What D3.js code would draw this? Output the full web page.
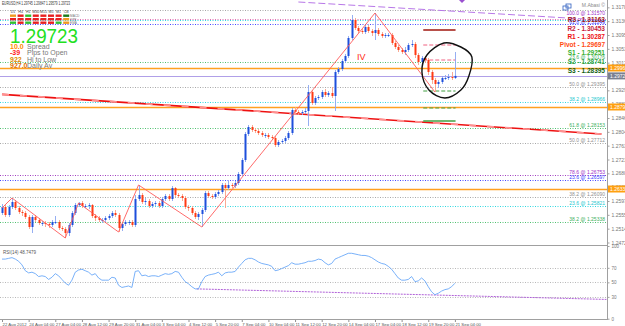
<!DOCTYPE html>
<html>
<head>
<meta charset="utf-8">
<script src="https://d3js.org/d3.v7.min.js"></script>
<style>
body { margin: 0; background: #fff; }
svg { display: block; font-family: "Liberation Sans", Arial, sans-serif; }
</style>
</head>
<body>
<script>
// ---- data (EURUSD H4, 22 Aug - 21 Sep 2012) ----
var firstOpen = 1.2561;
var closes = [1.2579,1.2555,1.2579,1.2594,1.2576,1.2564,1.2561,1.2549,1.2519,1.2549,
1.2540,1.2531,1.2531,1.2528,1.2525,1.2534,1.2534,1.2516,1.2513,1.2501,
1.2525,1.2561,1.2585,1.2591,1.2582,1.2582,1.2585,1.2552,1.2546,1.2540,
1.2540,1.2546,1.2552,1.2561,1.2555,1.2516,1.2528,1.2534,1.2534,1.2525,
1.2603,1.2615,1.2594,1.2597,1.2582,1.2588,1.2591,1.2582,1.2603,1.2612,
1.2603,1.2636,1.2615,1.2612,1.2606,1.2579,1.2576,1.2561,1.2549,1.2558,
1.2570,1.2621,1.2612,1.2609,1.2618,1.2624,1.2645,1.2636,1.2645,1.2642,
1.2651,1.2678,1.2720,1.2798,1.2819,1.2810,1.2807,1.2801,1.2795,1.2795,
1.2789,1.2786,1.2765,1.2774,1.2777,1.2786,1.2801,1.2870,1.2864,1.2861,
1.2864,1.2867,1.2924,1.2891,1.2906,1.2909,1.2924,1.2915,1.2921,1.2912,
1.2984,1.2993,1.3017,1.3032,1.3086,1.3140,1.3116,1.3107,1.3104,1.3119,
1.3107,1.3101,1.3110,1.3098,1.3092,1.3095,1.3095,1.3071,1.3059,1.3050,
1.3044,1.3050,1.3065,1.3068,1.3035,1.3014,1.3026,1.3020,1.2984,1.2960,
1.2948,1.2954,1.2966,1.2966,1.2969,1.2966,1.29723];
var highs = [1.2588,1.2585,1.2585,1.2606,1.2600,1.2582,1.2570,1.2567,1.2555,1.2555,
1.2555,1.2546,1.2537,1.2537,1.2534,1.2540,1.2552,1.2540,1.2522,1.2519,
1.2531,1.2567,1.2591,1.2594,1.2597,1.2588,1.2591,1.2588,1.2558,1.2552,
1.2546,1.2552,1.2558,1.2567,1.2570,1.2561,1.2534,1.2540,1.2540,1.2540,
1.2615,1.2645,1.2621,1.2606,1.2603,1.2594,1.2597,1.2597,1.2609,1.2618,
1.2618,1.2642,1.2639,1.2621,1.2618,1.2612,1.2585,1.2582,1.2567,1.2564,
1.2576,1.2627,1.2627,1.2618,1.2624,1.2630,1.2651,1.2651,1.2657,1.2651,
1.2657,1.2684,1.2726,1.2804,1.2825,1.2825,1.2816,1.2813,1.2807,1.2801,
1.2801,1.2795,1.2792,1.2780,1.2783,1.2792,1.2807,1.2876,1.2879,1.2870,
1.2870,1.2876,1.2945,1.2930,1.2912,1.2915,1.2930,1.2933,1.2927,1.2939,
1.2990,1.2999,1.3023,1.3038,1.3092,1.3155,1.3146,1.3122,1.3113,1.3125,
1.3125,1.3113,1.3161,1.3116,1.3104,1.3101,1.3101,1.3101,1.3077,1.3065,
1.3056,1.3059,1.3071,1.3080,1.3074,1.3041,1.3032,1.3032,1.3026,1.2990,
1.2966,1.2960,1.2972,1.2975,1.2978,1.2984,1.3044];
var lows = [1.2555,1.2549,1.2549,1.2573,1.2570,1.2558,1.2552,1.2543,1.2513,1.2501,
1.2534,1.2525,1.2522,1.2519,1.2516,1.2519,1.2528,1.2510,1.2507,1.2486,
1.2492,1.2519,1.2555,1.2579,1.2576,1.2576,1.2573,1.2546,1.2537,1.2534,
1.2531,1.2534,1.2540,1.2546,1.2549,1.2504,1.2507,1.2522,1.2525,1.2519,
1.2519,1.2597,1.2588,1.2585,1.2576,1.2576,1.2582,1.2576,1.2576,1.2597,
1.2597,1.2597,1.2609,1.2606,1.2597,1.2573,1.2567,1.2555,1.2543,1.2540,
1.2519,1.2564,1.2606,1.2603,1.2603,1.2612,1.2618,1.2576,1.2630,1.2636,
1.2636,1.2645,1.2672,1.2714,1.2792,1.2804,1.2801,1.2795,1.2789,1.2786,
1.2783,1.2780,1.2759,1.2759,1.2768,1.2771,1.2780,1.2795,1.2858,1.2855,
1.2855,1.2858,1.2822,1.2885,1.2885,1.2900,1.2903,1.2909,1.2909,1.2906,
1.2867,1.2978,1.2987,1.3011,1.3026,1.3080,1.3110,1.3101,1.3098,1.3098,
1.3101,1.3092,1.3080,1.3092,1.3086,1.3086,1.3089,1.3065,1.3053,1.3044,
1.3038,1.3035,1.3044,1.3059,1.3026,1.3005,1.3002,1.3011,1.2975,1.2948,
1.2924,1.2936,1.2948,1.2960,1.2960,1.2960,1.2963];
var rsi = [82,82,83,84,82,79,74,66,63,64,
62,58,59,58,54,57,62,59,54,49,
46,53,64,67,68,66,64,60,62,56,
53,53,53,57,56,46,43,44,45,43,
65,66,59,60,58,59,59,58,60,62,
61,62,65,64,57,51,48,44,41,41,
51,58,60,61,62,64,59,63,64,64,
65,71,76,81,83,83,81,78,76,75,
74,72,66,67,69,71,73,77,75,75,
76,77,79,79,80,82,81,77,74,76,
82,84,86,88,90,90,89,88,87,87,
86,84,81,78,76,75,72,68,62,56,
53,53,54,58,51,52,56,52,44,37,
33,35,38,40,41,44,48.75];

var dateLabels = ["22 Aug 2012","24 Aug 04:00","27 Aug 04:00","28 Aug 12:00","29 Aug 20:00","31 Aug 04:00",
  "3 Sep 04:00","4 Sep 12:00","5 Sep 20:00","7 Sep 04:00","10 Sep 04:00","11 Sep 12:00",
  "12 Sep 20:00","14 Sep 04:00","17 Sep 04:00","18 Sep 12:00","19 Sep 20:00","21 Sep 04:00"];
var dateBars = [0,8,16,24,32,40,48,56,64,72,80,88,96,104,112,120,128,136];
var priceTicks = [1.3178,1.31365,1.3095,1.30535,1.3012,1.29705,1.2929,1.28875,1.2846,
  1.28045,1.2763,1.27215,1.268,1.26385,1.2597,1.25555,1.2514,1.24725];
var rsiTicks = [100,70,50,30,0];
var rsiLevels = [70,50,30];

// horizontal levels (fibo / pivots)
var dotPrices = [1.3170,1.3143,1.3140,1.3128,1.3014,1.2939,1.2894,1.2816,1.2771,1.2675,1.2660,1.2609,1.2582,1.2534];
var dotKinds  = ["gray","pink","cyan","blue","green","gray","cyan","green","gray","purple","blue","gray","cyan","green"];
var orangePrices = [1.2996,1.2879,1.2633];
var bid = 1.29723;

var fiboPrices = [1.3152,1.3126,1.3020,1.2939,1.2894,1.2816,1.2771,1.2675,1.2660,1.2609,1.2582,1.2534];
var fiboTexts = ["100.0 @ 1.31570","61.8 @ 1.31249","23.6 @ 1.30176","50.0 @ 1.29395","38.2 @ 1.28966",
  "61.8 @ 1.28153","50.0 @ 1.27712","78.6 @ 1.26753","23.6 @ 1.26597","38.2 @ 1.26090","23.6 @ 1.25821","38.2 @ 1.25338"];
var fiboKinds = ["purple","blue","green","gray","cyan","green","gray","purple","blue","gray","cyan","green"];

var pivotNames = ["R3","R2","R1","Pivot","S1","S2","S3"];
var pivotValues = ["1.31163","1.30453","1.30287","1.29697","1.29251","1.28741","1.28395"];

var zigBars = [0,3,19,23,35,41,60,112,130];
var zigPrices = [1.2576,1.2606,1.2486,1.2591,1.2504,1.2645,1.2519,1.3161,1.2924];
var trendBars = [0,180], trendPrices = [1.2917,1.2798];
var topLineBars = [89,180], topLinePrices = [1.3194,1.3140];
var rsiTrendBars = [58.5,181.5], rsiTrendValues = [41,26.5];

var segBars = [126.5,136.2];
var segPrices = [1.3110,1.3065,1.3020,1.2927,1.2876,1.2837];
var segKinds = ["maroon","pinkdash","pinkdash","greendash","greendash","green"];

var circleBars = [132.7,137.8,141.1,140.2,137.8,133,128.2,126.1,127.6];
var circlePrices = [1.3071,1.3059,1.3029,1.2972,1.2930,1.2906,1.2930,1.2984,1.3035];

var tfNames = ["D1","H4","H1","M30","M15","M5","M1","CB"];
var rowNames = ["MACD","STR","EMA"];
var cellStates = [
  ["mid","dn","up","dn","dn","dn","dn","upd"],
  ["dn","dn","dn","dn","dn","dn","dn","mid"],
  ["up","dn","up","dn","dn","dn","up","mid"]
];

// ---- drawing ----
var w = 625, h = 326, plotR = 607, mainB = 245;
var svg = d3.select("body").append("svg").attr("width", w).attr("height", h);
svg.append("rect").attr("width", w).attr("height", h).attr("fill", "#fff");

var x = d3.scaleLinear().domain([0, 136]).range([2, 454.9]);
var y = d3.scaleLinear().domain([1.2465, 1.3200]).range([mainB, 0]);
var yR = d3.scaleLinear().domain([0, 100]).range([318.7, 246]);

var colors = {gray:"#a8a8a8", pink:"#e070b0", cyan:"#30d8e0", blue:"#4848ff", green:"#50c070",
  purple:"#a040c0", orange:"#ffa010"};

svg.append("clipPath").attr("id","mc").append("rect").attr("width", plotR).attr("height", mainB);
var main = svg.append("g").attr("clip-path","url(#mc)");

// dotted levels
main.selectAll(".dot").data(dotPrices).enter().append("line")
  .attr("x1",0).attr("x2",plotR)
  .attr("y1",d=>Math.round(y(d))+0.5).attr("y2",d=>Math.round(y(d))+0.5)
  .attr("stroke",(d,i)=>colors[dotKinds[i]]).attr("stroke-dasharray","1,1.5");

// top purple trend line
main.append("line")
  .attr("x1",x(topLineBars[0])).attr("y1",y(topLinePrices[0]))
  .attr("x2",x(topLineBars[1])).attr("y2",y(topLinePrices[1]))
  .attr("stroke","#b878e8").attr("stroke-dasharray","7,3");

// orange and bid lines
main.selectAll(".orl").data(orangePrices).enter().append("line")
  .attr("x1",0).attr("x2",plotR)
  .attr("y1",d=>Math.round(y(d))+0.5).attr("y2",d=>Math.round(y(d))+0.5)
  .attr("stroke","#ffa020").attr("stroke-width",1.3);
main.append("line").attr("x1",0).attr("x2",plotR)
  .attr("y1",Math.round(y(bid))+0.5).attr("y2",Math.round(y(bid))+0.5)
  .attr("stroke","#b0a0e8").attr("stroke-width",1.2);

// red trend line (solid with pale dashes)
main.append("line")
  .attr("x1",x(trendBars[0])).attr("y1",y(trendPrices[0]))
  .attr("x2",x(trendBars[1])).attr("y2",y(trendPrices[1]))
  .attr("stroke","#ee1010").attr("stroke-width",1.6);
main.append("line")
  .attr("x1",x(trendBars[0])).attr("y1",y(trendPrices[0]))
  .attr("x2",x(trendBars[1])).attr("y2",y(trendPrices[1]))
  .attr("stroke","#ff9090").attr("stroke-width",1.7).attr("stroke-dasharray","7,11");

// short current-day segments
var segStyle = {
  maroon:{c:"#b8504a", w:2, d:null},
  pinkdash:{c:"#f06080", w:1, d:"4,2"},
  greendash:{c:"#40a040", w:1, d:"4,2"},
  green:{c:"#40a040", w:1.6, d:null}
};
main.selectAll(".seg").data(segPrices).enter().append("line")
  .attr("x1",x(segBars[0])).attr("x2",x(segBars[1]))
  .attr("y1",d=>y(d)).attr("y2",d=>y(d))
  .attr("stroke",(d,i)=>segStyle[segKinds[i]].c)
  .attr("stroke-width",(d,i)=>segStyle[segKinds[i]].w)
  .attr("stroke-dasharray",(d,i)=>segStyle[segKinds[i]].d);

// candles
var bars = closes.map(function(c,i){
  return {i:i, o: i==0 ? firstOpen : closes[i-1], c:c, hi:highs[i], lo:lows[i]};
});
var cg = main.append("g");
cg.selectAll("line").data(bars).enter().append("line")
  .attr("x1",d=>Math.round(x(d.i))+0.5).attr("x2",d=>Math.round(x(d.i))+0.5)
  .attr("y1",d=>y(d.hi)).attr("y2",d=>y(d.lo))
  .attr("stroke",d=>d.c>=d.o ? "#8aa6f0" : "#f8a088").attr("stroke-width",0.9);
cg.selectAll("rect").data(bars).enter().append("rect")
  .attr("x",d=>Math.round(x(d.i))-0.5).attr("width",2)
  .attr("y",d=>y(Math.max(d.o,d.c)))
  .attr("height",d=>Math.max(1, Math.abs(y(d.o)-y(d.c))))
  .attr("fill",d=>d.c>=d.o ? "#1d4fdc" : "#ff3a14");

// zigzag
main.append("path").datum(zigBars)
  .attr("d", d3.line().x(d=>x(d)).y((d,i)=>y(zigPrices[i])))
  .attr("fill","none").attr("stroke","#ff5a5a").attr("stroke-width",0.9);

// hand drawn circle
main.append("path").datum(circleBars)
  .attr("d", d3.line().x(d=>x(d)).y((d,i)=>y(circlePrices[i])).curve(d3.curveCardinalClosed))
  .attr("fill","none").attr("stroke","#111").attr("stroke-width",1.4);

// IV label
main.append("text").attr("x",x(106.6)).attr("y",y(1.3029)).attr("dy","0.35em")
  .attr("font-size",9).attr("fill","#ff2a10").text("IV");

// small marker at top
main.append("path").attr("d","M459,0 L465,0 L462,3 Z").attr("fill","#9a50d0");

// fibo labels
var fiboCol = {purple:"#a030c8", blue:"#4040ff", green:"#40b060", gray:"#909090", cyan:"#20c8d0"};
svg.selectAll(".fibo").data(fiboPrices).enter().append("text")
  .attr("x",605).attr("y",d=>y(d)-1).attr("text-anchor","end")
  .attr("font-size",5).attr("fill",(d,i)=>fiboCol[fiboKinds[i]])
  .text((d,i)=>fiboTexts[i]);

// pivot labels
var pivotCol = ["#a01818","#c8203c","#ee1010","#ff4a10","#38b030","#30a040","#106010"];
var pivotY = [20,29,37,45,53,62,71];
svg.selectAll(".piv").data(pivotNames).enter().append("text")
  .attr("x",605).attr("y",(d,i)=>pivotY[i]).attr("dy","0.35em").attr("text-anchor","end")
  .attr("font-size",6.5).attr("font-weight","bold").attr("fill",(d,i)=>pivotCol[i])
  .text((d,i)=>d + " - " + pivotValues[i]);

// top-right signature and icon
svg.append("rect").attr("x",563).attr("y",6).attr("width",5).attr("height",4).attr("fill","none").attr("stroke","#3060c0").attr("stroke-width",0.8);
svg.append("rect").attr("x",566).attr("y",4).attr("width",5).attr("height",4).attr("fill","none").attr("stroke","#3060c0").attr("stroke-width",0.8);
svg.append("text").attr("x",605).attr("y",7).attr("text-anchor","end").attr("font-size",5)
  .attr("fill","#888").text("M.Abasi ©");

// RSI subwindow
svg.selectAll(".rl").data(rsiLevels).enter().append("line")
  .attr("x1",0).attr("x2",plotR)
  .attr("y1",d=>Math.round(yR(d))+0.5).attr("y2",d=>Math.round(yR(d))+0.5)
  .attr("stroke","#b8b8b8").attr("stroke-dasharray","1,1.5");
svg.append("line")
  .attr("x1",x(rsiTrendBars[0])).attr("y1",yR(rsiTrendValues[0]))
  .attr("x2",Math.min(plotR, x(rsiTrendBars[1]))).attr("y2",yR(rsiTrendValues[1]))
  .attr("stroke","#b060d8").attr("stroke-dasharray","2,1");
svg.append("path").datum(rsi)
  .attr("d", d3.line().x((d,i)=>x(i)).y(d=>yR(d)))
  .attr("fill","none").attr("stroke","#6aa8f8").attr("stroke-width",0.9);
svg.append("text").attr("x",3).attr("y",254).attr("font-size",4.5).attr("fill","#555")
  .text("RSI(14) 48.7479");

// frames
svg.append("line").attr("x1",0).attr("x2",plotR).attr("y1",mainB+0.5).attr("y2",mainB+0.5).attr("stroke","#a0a0a0");
svg.append("line").attr("x1",0).attr("x2",plotR).attr("y1",319.5).attr("y2",319.5).attr("stroke","#a0a0a0");
svg.append("line").attr("x1",plotR+0.5).attr("x2",plotR+0.5).attr("y1",0).attr("y2",320).attr("stroke","#a0a0a0");

// price axis
var pa = svg.append("g").attr("transform","translate("+(plotR+0.5)+",0)")
  .call(d3.axisRight(y).tickValues(priceTicks).tickFormat(d3.format(".5f")).tickSize(2).tickPadding(2));
pa.select(".domain").remove();
pa.selectAll("line").attr("stroke","#a0a0a0");
pa.selectAll("text").attr("font-size",5).attr("fill","#777").attr("font-family","Liberation Sans, Arial");

// price boxes
var boxes = orangePrices.map(p=>({p:p, c:"#ffa010"})).concat([{p:bid, c:"#7a8090"}]);
var bx = svg.selectAll(".box").data(boxes).enter().append("g");
bx.append("rect").attr("x",plotR+1).attr("y",d=>y(d.p)-3.5).attr("width",w-plotR-1).attr("height",7).attr("fill",d=>d.c);
bx.append("text").attr("x",plotR+3).attr("y",d=>y(d.p)).attr("dy","0.35em").attr("font-size",5).attr("fill","#fff")
  .text(d=>d.p.toFixed(5));

// RSI axis
var ra = svg.append("g").attr("transform","translate("+(plotR+0.5)+",0)")
  .call(d3.axisRight(yR).tickValues(rsiTicks).tickSize(2).tickPadding(2));
ra.select(".domain").remove();
ra.selectAll("line").attr("stroke","#a0a0a0");
ra.selectAll("text").attr("font-size",4.5).attr("fill","#777").attr("font-family","Liberation Sans, Arial");

// date axis
var da = svg.append("g").attr("transform","translate(0,320)")
  .call(d3.axisBottom(x).tickValues(dateBars).tickFormat((d,i)=>dateLabels[i]).tickSize(2).tickPadding(1));
da.select(".domain").remove();
da.selectAll("line").attr("stroke","#909090");
da.selectAll("text").attr("font-size",4.3).attr("fill","#555").attr("text-anchor","start")
  .attr("dx",0).attr("font-family","Liberation Sans, Arial");

// top-left header
svg.append("text").attr("x",2).attr("y",5).attr("font-size",4.5).attr("fill","#333")
  .attr("textLength",68).attr("lengthAdjust","spacingAndGlyphs")
  .text("EURUSD,H4  1.29745 1.29847 1.29579 1.29723");

// timeframe dashboard
var stateCol = {up:"#30c030", dn:"#e82020", mid:"#f09a20", upd:"#1a7a1a"};
svg.selectAll(".tf").data(tfNames).enter().append("text")
  .attr("x",(d,i)=>13+i*7.6).attr("y",13).attr("text-anchor","middle")
  .attr("font-size",3.6).attr("fill","#444").text(d=>d);
cellStates.forEach(function(row,r){
  svg.selectAll(".c"+r).data(row).enter().append("rect")
    .attr("x",(d,i)=>10+i*7.6).attr("y",14.5+r*3.5).attr("width",6).attr("height",2.4)
    .attr("fill",d=>stateCol[d]);
});
svg.selectAll(".rn").data(rowNames).enter().append("text")
  .attr("x",70).attr("y",(d,i)=>17+i*3.5).attr("font-size",3.2).attr("fill","#777").text(d=>d);

// big bid and info lines
svg.append("text").attr("x",10).attr("y",43).attr("font-size",21).attr("fill","#22e022")
  .attr("textLength",68).attr("lengthAdjust","spacingAndGlyphs").text("1.29723");
var infoNums = ["10.0","-39","922","927.0"];
var infoText = ["Spread","Pips to Open","Hi to Low","Daily Av"];
var infoCol = ["#ff8c00","#ff2020","#e08a00","#e07000"];
svg.selectAll(".in").data(infoNums).enter().append("text")
  .attr("x",10).attr("y",(d,i)=>49+i*6.4).attr("font-size",7).attr("font-weight","bold")
  .attr("fill",(d,i)=>infoCol[i]).text(d=>d);
svg.selectAll(".it").data(infoText).enter().append("text")
  .attr("x",27).attr("y",(d,i)=>49+i*6.4).attr("font-size",7)
  .attr("fill","#777").text(d=>d);
</script>
</body>
</html>
